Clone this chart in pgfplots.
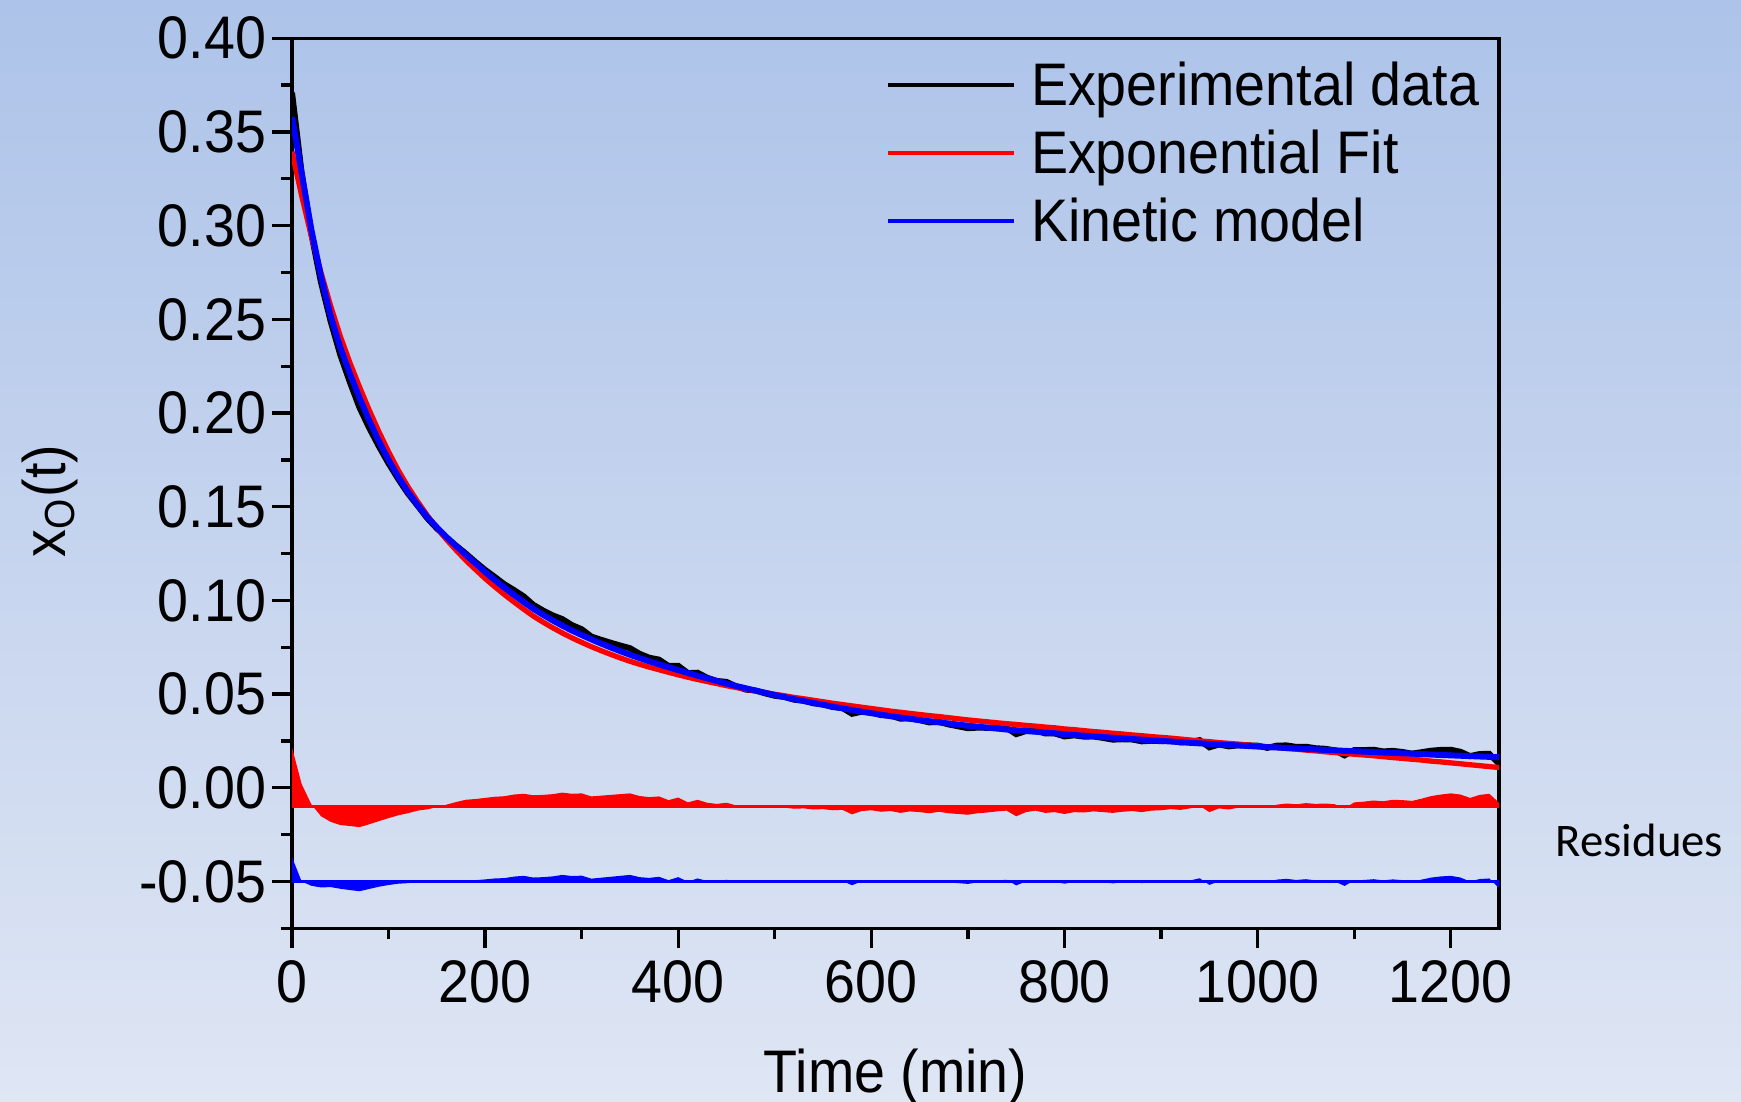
\documentclass[border=0pt]{standalone}
\usepackage{fontspec}
\setmainfont{Liberation Sans}[FakeStretch=0.925]
\newfontfamily\calibri{Carlito}
\usepackage{pgfplots}
\usepackage{pgfplotstable}
\pgfplotsset{compat=1.18}
\usepgfplotslibrary{fillbetween}

\definecolor{bgtop}{RGB}{173,195,233}
\definecolor{bgbot}{RGB}{223,230,244}

% t: time (min), D: experimental, F: exponential fit, B: kinetic model,
% R: residue of the fit, Q: residue of the model
\pgfplotstableread{
t D F B R Q
0 0.3710 0.3395 0.3580 0.0315 0.0130
10 0.3280 0.3160 0.3280 0.0120 0.0000
20 0.2957 0.2945 0.2980 0.0012 -0.0023
30 0.2698 0.2750 0.2730 -0.0052 -0.0032
40 0.2490 0.2572 0.2520 -0.0082 -0.0030
50 0.2311 0.2410 0.2350 -0.0099 -0.0039
60 0.2164 0.2268 0.2210 -0.0104 -0.0046
70 0.2028 0.2138 0.2080 -0.0110 -0.0052
80 0.1920 0.2015 0.1960 -0.0095 -0.0040
90 0.1822 0.1900 0.1850 -0.0078 -0.0028
100 0.1731 0.1793 0.1750 -0.0062 -0.0019
110 0.1648 0.1695 0.1660 -0.0047 -0.0012
120 0.1571 0.1607 0.1580 -0.0036 -0.0009
130 0.1506 0.1528 0.1510 -0.0022 -0.0004
140 0.1439 0.1454 0.1445 -0.0015 -0.0006
150 0.1384 0.1388 0.1390 -0.0004 -0.0006
160 0.1335 0.1325 0.1338 0.0010 -0.0003
170 0.1292 0.1268 0.1290 0.0024 0.0002
180 0.1250 0.1214 0.1243 0.0036 0.0007
190 0.1205 0.1165 0.1198 0.0040 0.0007
200 0.1163 0.1117 0.1152 0.0046 0.0011
210 0.1125 0.1073 0.1109 0.0052 0.0016
220 0.1086 0.1031 0.1068 0.0055 0.0018
230 0.1055 0.0991 0.1029 0.0064 0.0026
240 0.1021 0.0953 0.0991 0.0068 0.0030
250 0.0976 0.0916 0.0955 0.0060 0.0021
260 0.0946 0.0884 0.0923 0.0062 0.0023
270 0.0920 0.0854 0.0893 0.0066 0.0027
280 0.0900 0.0826 0.0865 0.0074 0.0035
290 0.0868 0.0800 0.0839 0.0068 0.0029
300 0.0846 0.0776 0.0815 0.0070 0.0031
310 0.0807 0.0753 0.0792 0.0054 0.0015
320 0.0790 0.0732 0.0770 0.0058 0.0020
330 0.0774 0.0712 0.0749 0.0062 0.0025
340 0.0759 0.0693 0.0729 0.0066 0.0030
350 0.0745 0.0675 0.0710 0.0070 0.0035
360 0.0715 0.0659 0.0692 0.0056 0.0023
370 0.0694 0.0644 0.0675 0.0050 0.0019
380 0.0684 0.0630 0.0659 0.0054 0.0025
390 0.0650 0.0616 0.0643 0.0034 0.0007
400 0.0651 0.0603 0.0628 0.0048 0.0023
410 0.0612 0.0590 0.0613 0.0022 -0.0001
420 0.0614 0.0578 0.0598 0.0036 0.0016
430 0.0587 0.0567 0.0584 0.0020 0.0003
440 0.0570 0.0556 0.0570 0.0014 0.0000
450 0.0565 0.0545 0.0556 0.0020 0.0009
460 0.0541 0.0535 0.0543 0.0006 -0.0002
470 0.0524 0.0526 0.0531 -0.0002 -0.0007
480 0.0519 0.0517 0.0519 0.0002 0.0000
490 0.0504 0.0508 0.0507 -0.0004 -0.0003
500 0.0491 0.0499 0.0495 -0.0008 -0.0004
510 0.0485 0.0491 0.0484 -0.0006 0.0001
520 0.0470 0.0482 0.0473 -0.0012 -0.0003
530 0.0465 0.0475 0.0463 -0.0010 0.0002
540 0.0451 0.0467 0.0453 -0.0016 -0.0002
550 0.0445 0.0459 0.0443 -0.0014 0.0002
560 0.0431 0.0451 0.0433 -0.0020 -0.0002
570 0.0426 0.0444 0.0424 -0.0018 0.0002
580 0.0395 0.0437 0.0415 -0.0042 -0.0020
590 0.0406 0.0430 0.0406 -0.0024 0.0000
600 0.0403 0.0423 0.0398 -0.0020 0.0005
610 0.0388 0.0416 0.0390 -0.0028 -0.0002
620 0.0385 0.0409 0.0382 -0.0024 0.0003
630 0.0369 0.0403 0.0375 -0.0034 -0.0006
640 0.0371 0.0397 0.0368 -0.0026 0.0003
650 0.0361 0.0391 0.0361 -0.0030 0.0000
660 0.0349 0.0385 0.0355 -0.0036 -0.0006
670 0.0352 0.0380 0.0349 -0.0028 0.0003
680 0.0338 0.0374 0.0343 -0.0036 -0.0005
690 0.0328 0.0368 0.0337 -0.0040 -0.0009
700 0.0318 0.0362 0.0331 -0.0044 -0.0013
710 0.0321 0.0357 0.0326 -0.0036 -0.0005
720 0.0320 0.0352 0.0321 -0.0032 -0.0001
730 0.0321 0.0347 0.0316 -0.0026 0.0005
740 0.0320 0.0342 0.0311 -0.0022 0.0009
750 0.0286 0.0338 0.0307 -0.0052 -0.0021
760 0.0303 0.0333 0.0303 -0.0030 0.0000
770 0.0307 0.0329 0.0299 -0.0022 0.0008
780 0.0290 0.0324 0.0295 -0.0034 -0.0005
790 0.0290 0.0320 0.0291 -0.0030 -0.0001
800 0.0274 0.0314 0.0286 -0.0040 -0.0012
810 0.0280 0.0310 0.0282 -0.0030 -0.0002
820 0.0273 0.0305 0.0278 -0.0032 -0.0005
830 0.0274 0.0300 0.0274 -0.0026 0.0000
840 0.0266 0.0296 0.0271 -0.0030 -0.0005
850 0.0257 0.0291 0.0267 -0.0034 -0.0010
860 0.0259 0.0287 0.0264 -0.0028 -0.0005
870 0.0258 0.0282 0.0260 -0.0024 -0.0002
880 0.0248 0.0278 0.0257 -0.0030 -0.0009
890 0.0251 0.0273 0.0253 -0.0022 -0.0002
900 0.0249 0.0269 0.0250 -0.0020 -0.0001
910 0.0251 0.0265 0.0247 -0.0014 0.0004
920 0.0242 0.0260 0.0244 -0.0018 -0.0002
930 0.0245 0.0255 0.0240 -0.0010 0.0005
940 0.0254 0.0250 0.0237 0.0004 0.0017
950 0.0216 0.0246 0.0234 -0.0030 -0.0018
960 0.0231 0.0241 0.0231 -0.0010 0.0000
970 0.0221 0.0237 0.0228 -0.0016 -0.0007
980 0.0227 0.0233 0.0226 -0.0006 0.0001
990 0.0226 0.0228 0.0223 -0.0002 0.0003
1000 0.0225 0.0223 0.0220 0.0002 0.0005
1010 0.0213 0.0219 0.0217 -0.0006 -0.0004
1020 0.0225 0.0215 0.0215 0.0010 0.0010
1030 0.0226 0.0210 0.0212 0.0016 0.0014
1040 0.0218 0.0206 0.0210 0.0012 0.0008
1050 0.0219 0.0201 0.0207 0.0018 0.0012
1060 0.0211 0.0197 0.0205 0.0014 0.0006
1070 0.0208 0.0192 0.0202 0.0016 0.0006
1080 0.0200 0.0188 0.0200 0.0012 0.0000
1090 0.0173 0.0183 0.0197 -0.0010 -0.0024
1100 0.0201 0.0179 0.0195 0.0022 0.0006
1110 0.0201 0.0175 0.0193 0.0026 0.0008
1120 0.0203 0.0171 0.0191 0.0032 0.0012
1130 0.0194 0.0166 0.0188 0.0028 0.0006
1140 0.0197 0.0161 0.0186 0.0036 0.0011
1150 0.0191 0.0157 0.0184 0.0034 0.0007
1160 0.0182 0.0152 0.0182 0.0030 0.0000
1170 0.0190 0.0148 0.0180 0.0042 0.0010
1180 0.0198 0.0142 0.0177 0.0056 0.0021
1190 0.0202 0.0138 0.0175 0.0064 0.0027
1200 0.0203 0.0133 0.0173 0.0070 0.0030
1210 0.0192 0.0128 0.0171 0.0064 0.0021
1220 0.0169 0.0123 0.0169 0.0046 0.0000
1230 0.0180 0.0118 0.0167 0.0062 0.0013
1240 0.0181 0.0113 0.0165 0.0068 0.0016
1250 0.0128 0.0108 0.0163 0.0020 -0.0035
}\data

\newcommand{\bigfont}{\fontsize{17.1}{20}\selectfont}

\begin{document}
\begin{tikzpicture}
\begin{axis}[
  at={(0,0)}, anchor=south west,
  scale only axis,
  width=120.7mm, height=89mm,
  xmin=0, xmax=1250,
  ymin=-0.075, ymax=0.40,
  clip mode=individual,
  axis line style={line width=0.95pt},
  every tick/.style={black, line width=0.95pt},
  tick align=outside,
  tick pos=left,
  major tick length=2mm,
  minor tick length=1.1mm,
  xtick={0,200,...,1200},
  minor xtick={100,300,...,1100},
  ytick={-0.05,0,0.05,0.1,0.15,0.2,0.25,0.3,0.35,0.4},
  minor ytick={-0.075,-0.025,0.025,0.075,0.125,0.175,0.225,0.275,0.325,0.375},
  tick label style={font=\bigfont},
  /pgf/number format/assume math mode=true,
  /pgf/number format/1000 sep={},
  yticklabel style={inner sep=1.5pt, /pgf/number format/.cd, fixed, fixed zerofill, precision=2},
  xlabel={Time (min)},
  ylabel={x\textsubscript{O}(t)},
  label style={font=\bigfont},
  xlabel style={at={(axis description cs:0.5,-0.184)}, anchor=base},
  ylabel style={at={(axis description cs:-0.2005,0.48)}, anchor=center},
  legend cell align=left,
  legend style={draw=none, fill=none, at={(0.4915,0.9767)}, anchor=north west,
    font=\bigfont, inner sep=0pt, row sep=1mm,
    nodes={inner sep=0pt, text height=4.6mm, text depth=1.2mm}},
  legend image code/.code={
    \draw[#1, line width=1.2pt] (0mm,0.4mm) -- (12.6mm,0.4mm);
    \path (14.0mm,0.4mm);},
]
% page background, drawn below everything else
\begin{pgfonlayer}{axis background}
\fill[top color=bgtop, bottom color=bgbot]
  (axis description cs:-0.24193,-0.19438) rectangle (axis description cs:1.2005,1.04303);
\end{pgfonlayer}
% residues
\addplot[name path=rres, draw=none, forget plot] table[x=t, y expr=\thisrow{R}-0.01] {\data};
\addplot[name path=rbase, red, line width=0.8pt, forget plot] coordinates {(0,-0.01) (1250,-0.01)};
\addplot[fill=red, draw=none, forget plot] fill between[of=rres and rbase];
\addplot[name path=bres, draw=none, forget plot] table[x=t, y expr=\thisrow{Q}-0.05] {\data};
\addplot[name path=bbase, blue, line width=0.8pt, forget plot] coordinates {(0,-0.05) (1250,-0.05)};
\addplot[fill=blue, draw=none, forget plot] fill between[of=bres and bbase];
% main curves
\addplot[black, line width=1.7pt] table[x=t, y=D] {\data};
\addlegendentry{Experimental data}
\addplot[red, line width=1.5pt] table[x=t, y=F] {\data};
\addlegendentry{Exponential Fit}
\addplot[blue, line width=1.7pt] table[x=t, y=B] {\data};
\addlegendentry{Kinetic model}
\node[anchor=base west, inner sep=0pt, font=\calibri\fontsize{13.3}{16}\selectfont]
  at (axis description cs:1.0464,0.0804) {Residues};
\end{axis}
\pgfresetboundingbox
\path (-29.2mm,-17.3mm) rectangle (144.9mm,92.83mm);
\end{tikzpicture}
\end{document}
